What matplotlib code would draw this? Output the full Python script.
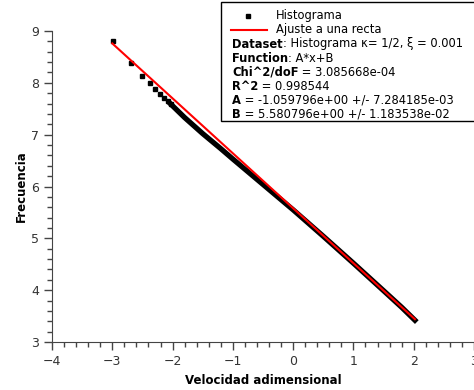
import matplotlib
matplotlib.use("Agg")
import matplotlib.pyplot as plt
from matplotlib.patches import Rectangle
from matplotlib.lines import Line2D
from matplotlib.ticker import MultipleLocator

# histogram points (sparse start)
x_sparse = [-2.99, -2.69, -2.50, -2.38, -2.29, -2.21, -2.14, -2.08, -2.03]
y_sparse = [8.81, 8.38, 8.13, 8.00, 7.88, 7.78, 7.71, 7.64, 7.59]
# dense part of the histogram (points overlap into a band)
x_dense = [-2.03, -1.8, -1.5, -1.2, -1.0, -0.5, 0.0, 0.5, 1.0, 1.5, 1.8, 2.02]
y_dense = [7.59, 7.33, 7.02, 6.73, 6.53, 6.04, 5.55, 5.04, 4.52, 3.99, 3.67, 3.42]

# fit y = A*x + B
A = -1.059796
B = 5.580796
x_fit = [-3.0, 2.02]

legend_rows = [
    ("Dataset", ": Histograma \u03ba= 1/2, \u03be = 0.001"),
    ("Function", ": A*x+B"),
    ("Chi^2/doF", " = 3.085668e-04"),
    ("R^2", " = 0.998544"),
    ("A", " = -1.059796e+00 +/- 7.284185e-03"),
    ("B", " = 5.580796e+00 +/- 1.183538e-02"),
]

W, H = 474, 390
fig = plt.figure(figsize=(W / 100, H / 100), dpi=100)
ax = fig.add_axes([52 / W, 1 - 342 / H, (474 - 52) / W, (342 - 31) / H])

ax.plot(x_dense, y_dense, '-', color='black', lw=3.8, solid_capstyle='projecting', zorder=2)
ax.plot(x_sparse, y_sparse, 's', color='black', ms=3.3, zorder=2)
ax.plot(x_fit, [A * v + B for v in x_fit], '-', color='red', lw=1.5, zorder=3)

ax.set_xlim(-4, 3)
ax.set_ylim(3, 9)
ax.xaxis.set_major_locator(MultipleLocator(1))
ax.xaxis.set_minor_locator(MultipleLocator(0.2))
ax.yaxis.set_major_locator(MultipleLocator(1))
ax.yaxis.set_minor_locator(MultipleLocator(0.2))
ax.spines['top'].set_visible(False)
ax.spines['right'].set_visible(False)
for s in ['left', 'bottom']:
    ax.spines[s].set_color('#444444')
ax.tick_params(which='major', length=6, width=1, color='#444444', labelsize=9, labelcolor='#333333')
ax.tick_params(which='minor', length=3.5, width=1, color='#444444')
ax.set_xticklabels([str(int(v)).replace('-', '\u2212') for v in ax.get_xticks()])
ax.set_xlabel("Velocidad adimensional", fontsize=8.5, fontweight='bold', labelpad=4)
ax.set_ylabel("Frecuencia", fontsize=8.5, fontweight='bold', labelpad=2)

# legend box
fig.add_artist(Rectangle((221 / W, 1 - 121 / H), 300 / W, 119 / H, transform=fig.transFigure,
                         facecolor='white', edgecolor='black', lw=1, zorder=10))
fig.add_artist(Line2D([248 / W], [1 - 16 / H], marker='s', ms=3.2, color='black',
                      transform=fig.transFigure, zorder=11))
fig.add_artist(Line2D([231 / W, 267 / W], [1 - 30 / H] * 2, color='red', lw=1.5,
                      transform=fig.transFigure, zorder=11))
fs = 8.3
fig.text(276 / W, 1 - 16 / H, "Histograma", fontsize=fs, va='center', zorder=11)
fig.text(276 / W, 1 - 30 / H, "Ajuste a una recta", fontsize=fs, va='center', zorder=11)

fig.canvas.draw()
renderer = fig.canvas.get_renderer()
y0 = 44
for i, (key, rest) in enumerate(legend_rows):
    yy = 1 - (y0 + i * 14) / H
    t = fig.text(232 / W, yy, key, fontsize=fs, fontweight='bold', va='center', zorder=11)
    bb = t.get_window_extent(renderer)
    fig.text(bb.x1 / W, yy, rest, fontsize=fs, va='center', zorder=11)

fig.savefig("out.png", dpi=100)
